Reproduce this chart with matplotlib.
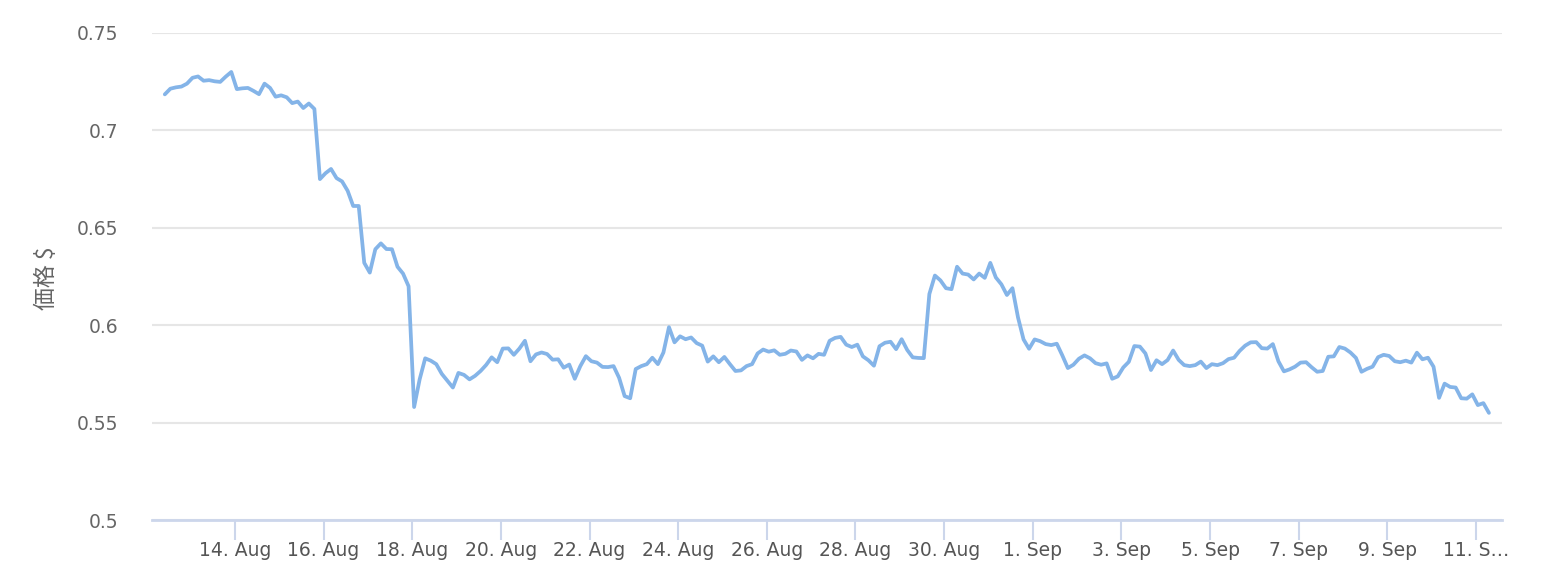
import matplotlib
matplotlib.use("Agg")
import matplotlib.pyplot as plt
import pandas as pd

# ---- data ----
start_time = "2017-08-12 10:00"
step = "3h"
prices = [
    0.7185, 0.7214, 0.7221, 0.7225, 0.7240, 0.7270, 0.7277, 0.7255, 0.7258, 0.7252,
    0.7249, 0.7276, 0.7300, 0.7212, 0.7216, 0.7218, 0.7203, 0.7186, 0.7240, 0.7218,
    0.7173, 0.7180, 0.7170, 0.7140, 0.7148, 0.7115, 0.7138, 0.7110, 0.6750, 0.6780,
    0.6802, 0.6755, 0.6738, 0.6690, 0.6612, 0.6612, 0.6320, 0.6270, 0.6390, 0.6420,
    0.6391, 0.6390, 0.6300, 0.6265, 0.6200, 0.5580, 0.5722, 0.5830, 0.5818, 0.5800,
    0.5750, 0.5715, 0.5680, 0.5755, 0.5745, 0.5722, 0.5740, 0.5765, 0.5796, 0.5835,
    0.5810, 0.5880, 0.5881, 0.5848, 0.5880, 0.5920, 0.5815, 0.5850, 0.5860, 0.5852,
    0.5823, 0.5825, 0.5782, 0.5798, 0.5725, 0.5790, 0.5841, 0.5815, 0.5808, 0.5786,
    0.5785, 0.5790, 0.5730, 0.5636, 0.5625, 0.5775, 0.5790, 0.5800, 0.5833, 0.5800,
    0.5860, 0.5990, 0.5912, 0.5943, 0.5928, 0.5937, 0.5908, 0.5895, 0.5813, 0.5840,
    0.5810, 0.5837, 0.5800, 0.5765, 0.5768, 0.5790, 0.5800, 0.5855, 0.5875, 0.5864,
    0.5871, 0.5848, 0.5853, 0.5870, 0.5865, 0.5822, 0.5845, 0.5830, 0.5853, 0.5848,
    0.5920, 0.5935, 0.5940, 0.5900, 0.5888, 0.5900, 0.5840, 0.5820, 0.5792, 0.5892,
    0.5910, 0.5915, 0.5877, 0.5928, 0.5873, 0.5835, 0.5832, 0.5831, 0.6160, 0.6255,
    0.6230, 0.6190, 0.6185, 0.6300, 0.6265, 0.6260, 0.6235, 0.6265, 0.6243, 0.6320,
    0.6245, 0.6210, 0.6155, 0.6190, 0.6040, 0.5927, 0.5879, 0.5927, 0.5918, 0.5903,
    0.5898, 0.5905, 0.5845, 0.5780, 0.5797, 0.5828, 0.5845, 0.5830, 0.5805, 0.5797,
    0.5804, 0.5725, 0.5737, 0.5783, 0.5812, 0.5893, 0.5890, 0.5855, 0.5770, 0.5820,
    0.5800, 0.5821, 0.5870, 0.5822, 0.5795, 0.5790, 0.5795, 0.5813, 0.5780, 0.5800,
    0.5795, 0.5805, 0.5826, 0.5833, 0.5868, 0.5895, 0.5912, 0.5913, 0.5882, 0.5880,
    0.5903, 0.5815, 0.5763, 0.5773, 0.5787, 0.5808, 0.5810, 0.5784, 0.5761, 0.5765,
    0.5838, 0.5840, 0.5888, 0.5880, 0.5860, 0.5832, 0.5761, 0.5776, 0.5787, 0.5836,
    0.5848, 0.5842, 0.5815, 0.5810, 0.5818, 0.5808, 0.5859, 0.5825, 0.5833, 0.5787,
    0.5627, 0.5700, 0.5683, 0.5680, 0.5625, 0.5623, 0.5645, 0.5590, 0.5600, 0.5550,
]
tick_dates = ["2017-08-14", "2017-08-16", "2017-08-18", "2017-08-20", "2017-08-22",
              "2017-08-24", "2017-08-26", "2017-08-28", "2017-08-30", "2017-09-01",
              "2017-09-03", "2017-09-05", "2017-09-07", "2017-09-09", "2017-09-11"]
tick_labels = ["14. Aug", "16. Aug", "18. Aug", "20. Aug", "22. Aug", "24. Aug",
               "26. Aug", "28. Aug", "30. Aug", "1. Sep", "3. Sep", "5. Sep",
               "7. Sep", "9. Sep", "11. S…"]
y_ticks = [0.5, 0.55, 0.6, 0.65, 0.7, 0.75]
y_tick_labels = ["0.5", "0.55", "0.6", "0.65", "0.7", "0.75"]
y_title = "価格 $"
x_range = ["2017-08-12 03:04", "2017-09-11 14:05"]

# ---- plot ----
times = pd.date_range(start_time, periods=len(prices), freq=step)

fig = plt.figure(figsize=(15.6, 5.8), dpi=100)
ax = fig.add_axes([152 / 1560, 60 / 580, 1350 / 1560, 487 / 580])

ax.plot(times, prices, color="#84b4e8", linewidth=2.7, solid_joinstyle="round",
        solid_capstyle="round")

ax.set_xlim(pd.Timestamp(x_range[0]), pd.Timestamp(x_range[1]))
ax.set_ylim(0.5, 0.75)

ax.set_yticks(y_ticks)
ax.set_yticklabels(y_tick_labels)
ax.set_xticks([pd.Timestamp(d) for d in tick_dates])
ax.set_xticklabels(tick_labels)

ax.grid(axis="y", color="#e6e6e6", linewidth=1.5)
ax.set_axisbelow(True)
for s in ["top", "right", "left"]:
    ax.spines[s].set_visible(False)
ax.spines["bottom"].set_color("#ccd6eb")
ax.spines["bottom"].set_linewidth(2)

ax.tick_params(axis="y", length=0, pad=24.5, labelsize=13.5, labelcolor="#666666")
ax.tick_params(axis="x", length=14.4, width=1.5, color="#ccd6eb", pad=0.5,
               labelsize=13.5, labelcolor="#555555")
for lab in ax.get_yticklabels() + ax.get_xticklabels():
    lab.set_family("DejaVu Sans")

fig.text(46 / 1560, 1 - 278 / 580, y_title, rotation=90, ha="center", va="center",
         color="#666666", fontsize=16.5, family=["Noto Sans CJK JP", "DejaVu Sans"])

fig.savefig("out.png", dpi=100, facecolor="white")
